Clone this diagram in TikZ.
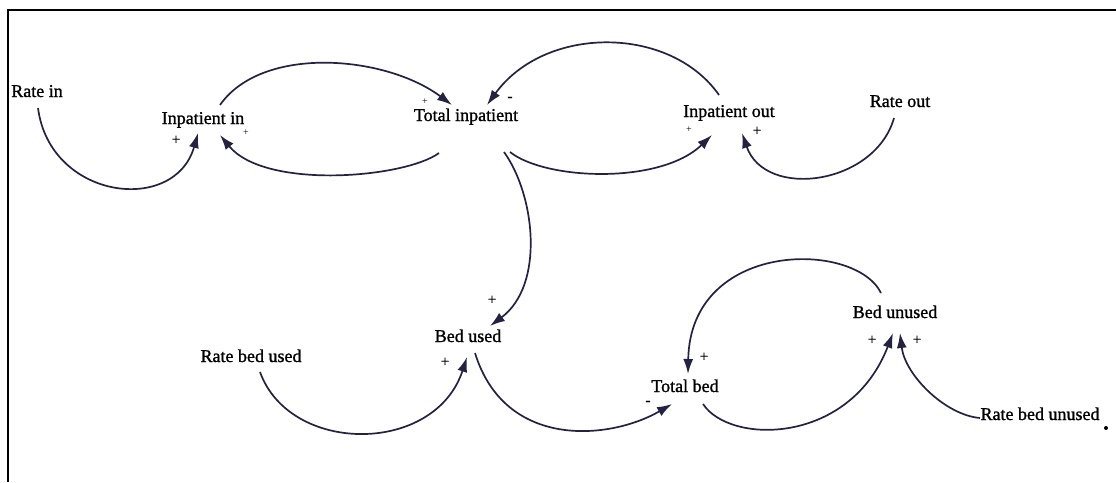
\documentclass[tikz,border=0pt]{standalone}
\usepackage{fontspec}
\setmainfont{Liberation Serif}
\newfontfamily\heavyserif[FakeBold=1.2]{Liberation Serif}
\usetikzlibrary{arrows.meta,calc}
\definecolor{linkcol}{RGB}{35,35,65}
\tikzset{
  var/.style={inner sep=0pt,text height=12pt,text depth=4pt,font=\heavyserif\fontsize{18}{20}\selectfont},
  link/.style={line width=1.7pt,linkcol,-{Latex[length=15pt,width=10pt]}},
  pol/.style={inner sep=0pt,font=\heavyserif\fontsize{15}{16}\selectfont},
  tinypol/.style={inner sep=0pt,font=\fontsize{10}{11}\selectfont}
}

\begin{document}
\begin{tikzpicture}[x=1pt,y=-1pt]
    \useasboundingbox (0,0) rectangle (1116,482);
    \draw[line width=2.5pt] (1116,10) -- (8,10) -- (8,482);
    % variables
    \node[var] (rin) at (37,93) {Rate in};
    \node[var] (pin) at (203,120) {Inpatient in};
    \node[var] (tin) at (466,117) {Total inpatient};
    \node[var] (pout) at (729,113) {Inpatient out};
    \node[var] (rout) at (900,103) {Rate out};
    \node[var] (bu) at (468,338) {Bed used};
    \node[var] (rbu) at (251,358) {Rate bed used};
    \node[var] (tb) at (685,388) {Total bed};
    \node[var] (bun) at (895,314) {Bed unused};
    \node[var] (rbun) at (1040,416) {Rate bed unused};
    % links
    \draw[link] ($(rin)+(1,15)$) .. controls (50,200) and (175,215) .. ($(pin)+(-5,13)$);
    \draw[link] ($(pin)+(17,-15)$) .. controls (262,45) and (385,55) .. ($(tin)+(-14,-12)$);
    \draw[link] ($(tin)+(-27,36)$) .. controls (405,178) and (265,190) .. ($(pin)+(17,15)$);
    \draw[link] ($(pout)+(-10,-18)$) .. controls (670,25) and (545,25) .. ($(tin)+(21,-12)$);
    \draw[link] ($(tin)+(44,35)$) .. controls (545,180) and (660,185) .. ($(pout)+(-17,22)$);
    \draw[link] ($(rout)+(-6,15)$) .. controls (875,185) and (765,200) .. ($(pout)+(13,20)$);
    \draw[link] ($(tin)+(38,35)$) .. controls (535,195) and (545,285) .. ($(bu)+(22,-12)$);
    \draw[link] ($(rbu)+(9,14)$) .. controls (290,455) and (435,455) .. ($(bu)+(-1,19)$);
    \draw[link] ($(bu)+(7,15)$) .. controls (505,450) and (610,440) .. ($(tb)+(-13,16)$);
    \draw[link] ($(tb)+(18,16)$) .. controls (730,445) and (850,445) .. ($(bun)+(-2,19)$);
    \draw[link] ($(bun)+(-14,-21)$) .. controls (855,240) and (690,240) .. ($(tb)+(3,-14)$);
    \draw[link] ($(rbun)+(-60,2)$) .. controls (945,415) and (905,375) .. ($(bun)+(5,19)$);
    % polarities
    \node[pol] (s1) at (176,140) {+};
    \node[tinypol] (s2) at (246,133) {+};
    \node[tinypol] (s3) at (425,102) {+};
    \node[pol] (s4) at (510,99) {-};
    \node[tinypol] (s5) at (689,130) {+};
    \node[pol] (s6) at (757,131) {+};
    \node[pol] (s7) at (492,300) {+};
    \node[pol] (s8) at (445,362) {+};
    \node[pol] (s9) at (648,403) {-};
    \node[pol] (s10) at (704,357) {+};
    \node[pol] (s11) at (872,340) {+};
    \node[pol] (s12) at (917,340) {+};
    \fill (1106,428) circle (2pt);
\end{tikzpicture}
\end{document}
